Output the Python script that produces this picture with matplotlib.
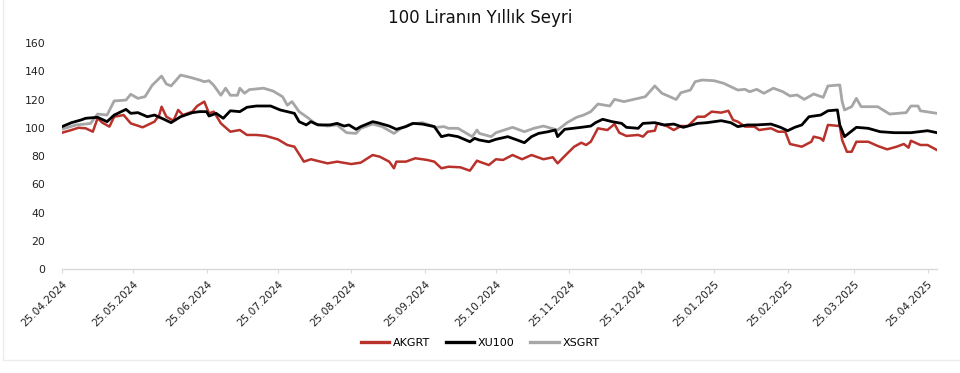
import matplotlib
matplotlib.use("Agg")
import matplotlib.pyplot as plt
from matplotlib.lines import Line2D
import pandas as pd

start = pd.Timestamp("2024-04-25")

# days since 25.04.2024 and index values (base 100)
akgrt_days = [0, 4, 7, 10, 13, 15, 17, 20, 22, 26, 29, 34, 39, 41, 42, 44, 47, 49, 51, 55, 57, 60, 62, 64, 67, 71, 75, 78, 82, 86, 91, 95, 98, 102, 105, 109, 112, 116, 122, 126, 131, 134, 138, 140, 141, 145, 149, 154, 157, 160, 163, 168, 172, 175, 176, 180, 183, 186, 190, 194, 198, 200, 203, 207, 209, 212, 216, 219, 221, 223, 226, 230, 233, 235, 238, 243, 245, 247, 250, 251, 255, 258, 261, 264, 268, 271, 274, 278, 281, 283, 285, 288, 292, 294, 299, 302, 305, 307, 312, 316, 317, 320, 321, 323, 328, 329, 331, 333, 335, 340, 344, 348, 352, 355, 357, 358, 362, 365, 369]
akgrt = [96.5, 98.4, 100, 99.6, 97.2, 106.7, 103.6, 100.8, 107.8, 109, 103.1, 100.3, 104.3, 109, 114.9, 107.8, 105, 112.6, 109, 111.4, 115.4, 118.5, 110.2, 111.4, 103.1, 97.2, 98.4, 94.9, 94.9, 94.2, 91.8, 87.8, 86.6, 76, 77.7, 76, 74.8, 76, 74.3, 75.3, 80.7, 79.5, 76, 71.3, 76, 76, 78.4, 77.2, 76, 71.3, 72.4, 72, 69.6, 76.7, 76, 73.6, 77.7, 77.2, 80.7, 77.7, 80.7, 79.5, 77.7, 79.1, 74.8, 80, 86.6, 89.4, 87.8, 90.1, 99.6, 98.4, 102.6, 96.5, 94.2, 94.9, 93.7, 97.2, 97.9, 103.1, 101.2, 98.4, 101.2, 101.2, 107.8, 107.8, 111.4, 110.7, 112, 105.5, 104.3, 100.8, 100.8, 98.4, 99.6, 97.2, 97.2, 88.5, 86.6, 90.1, 93.7, 92.5, 90.8, 102, 101.2, 91.3, 83, 83, 90.1, 90.1, 87.1, 84.7, 86.6, 88.5, 85.9, 90.8, 87.8, 87.8, 84.2]

xu100_days = [0, 4, 8, 10, 15, 19, 22, 27, 29, 32, 36, 39, 43, 46, 50, 55, 58, 61, 62, 65, 68, 71, 75, 78, 82, 88, 92, 98, 100, 103, 105, 108, 113, 116, 119, 121, 124, 126, 131, 133, 138, 141, 145, 148, 152, 157, 160, 163, 167, 172, 174, 176, 180, 183, 188, 192, 195, 198, 201, 205, 208, 209, 212, 219, 223, 225, 228, 232, 236, 238, 243, 245, 250, 254, 258, 262, 268, 272, 278, 282, 285, 289, 293, 299, 303, 306, 309, 312, 315, 320, 323, 327, 328, 330, 335, 340, 345, 351, 358, 365, 369]
xu100 = [100.8, 103.6, 105.5, 106.7, 107.4, 104.3, 109, 113, 110.2, 110.7, 107.8, 109, 106, 103.6, 107.8, 110.7, 111.4, 111.4, 108.3, 110.2, 106.7, 112, 111.4, 114.5, 115.4, 115.4, 112.6, 110.2, 104.3, 102, 104.3, 102, 102, 103.1, 101.2, 102, 98.9, 100.8, 104.3, 103.6, 101.2, 98.9, 100.8, 103.1, 102.6, 100.8, 93.7, 94.9, 93.7, 90.1, 92.5, 91.3, 90.1, 91.8, 93.7, 91.3, 89.4, 93.7, 96, 97.2, 98.4, 93.7, 98.9, 100.3, 101.2, 103.6, 106, 104.3, 103.1, 100.3, 99.6, 103.1, 103.6, 102, 102.6, 100.3, 103.1, 103.6, 105, 103.6, 100.8, 102, 102, 102.6, 100.3, 97.9, 100.3, 102, 107.8, 109, 112, 112.6, 102, 93.7, 100.3, 99.6, 97.2, 96.5, 96.5, 97.9, 96.5]

xsgrt_days = [0, 6, 12, 15, 19, 22, 27, 29, 32, 35, 38, 42, 44, 46, 50, 54, 58, 60, 62, 64, 67, 69, 71, 74, 75, 77, 79, 85, 89, 93, 95, 97, 100, 104, 107, 112, 116, 120, 124, 126, 131, 135, 140, 143, 147, 152, 158, 161, 163, 167, 173, 175, 176, 181, 183, 190, 195, 199, 203, 209, 213, 217, 220, 223, 226, 231, 233, 237, 243, 246, 250, 253, 257, 259, 261, 265, 267, 270, 275, 279, 285, 288, 290, 293, 296, 300, 304, 307, 310, 313, 317, 321, 323, 328, 329, 330, 333, 335, 337, 344, 349, 356, 358, 361, 362, 369]
xsgrt = [99, 102, 103, 109.7, 109, 119, 119.6, 123.7, 120.8, 122, 130, 136.6, 131, 129.6, 137.3, 135.7, 133.8, 132.6, 133.3, 130, 123, 128, 123, 123, 128, 124.4, 127, 128, 126, 122, 116, 118.5, 111.4, 106.7, 102.6, 101.2, 102, 96.5, 96, 99.6, 102.6, 100.8, 96, 99.6, 102.6, 103.6, 100.3, 100.8, 99.6, 99.6, 93.7, 98.4, 96, 93.7, 96.5, 100.3, 97.2, 99.6, 101.2, 98.4, 103.6, 107.4, 109, 111.4, 116.8, 115.4, 120.1, 118.5, 120.8, 122, 129.6, 124.4, 121.5, 120, 124.8, 126.7, 132.6, 133.8, 133.3, 131.5, 126.7, 127.2, 125.5, 127.2, 124.4, 128, 125.5, 122.5, 123.2, 120.1, 123.9, 121.5, 129.6, 130.3, 118.5, 112.6, 114.9, 120.8, 114.9, 114.9, 109.7, 110.7, 115.4, 115.4, 112, 110.2]

tick_labels = ["25.04.2024", "25.05.2024", "25.06.2024", "25.07.2024", "25.08.2024",
               "25.09.2024", "25.10.2024", "25.11.2024", "25.12.2024", "25.01.2025",
               "25.02.2025", "25.03.2025", "25.04.2025"]
y_ticks = [0, 20, 40, 60, 80, 100, 120, 140, 160]

series_names = ["AKGRT", "XU100", "XSGRT"]
colors = ["#B8312A", "#000000", "#A6A6A6"]

def to_dates(days):
    return start + pd.to_timedelta(days, unit="D")

plt.rcParams["font.family"] = ["DejaVu Sans"]

fig = plt.figure(figsize=(9.6, 3.73), dpi=100)
ax = fig.add_axes([62 / 960, 1 - 269 / 373, (937 - 62) / 960, (269 - 43) / 373])

ax.plot(to_dates(xsgrt_days), xsgrt, color=colors[2], lw=2.0, solid_joinstyle="round", zorder=2)
ax.plot(to_dates(akgrt_days), akgrt, color=colors[0], lw=1.8, solid_joinstyle="round", zorder=3)
ax.plot(to_dates(xu100_days), xu100, color=colors[1], lw=2.0, solid_joinstyle="round", zorder=4)

ax.set_ylim(0, 160)
ax.set_yticks(y_ticks)
ax.set_xlim(to_dates([0])[0], to_dates([369])[0])
tick_dates = pd.to_datetime(tick_labels, format="%d.%m.%Y")
ax.set_xticks(tick_dates)
ax.set_xticklabels(tick_labels, rotation=45, ha="right", va="top", rotation_mode="anchor",
                   fontsize=7.6, color="#222222")
ax.tick_params(axis="x", length=3, color="#d9d9d9", pad=4)
ax.tick_params(axis="y", length=0, labelsize=7.8, pad=12, labelcolor="#222222")
for s in ["top", "right", "left"]:
    ax.spines[s].set_visible(False)
ax.spines["bottom"].set_color("#d9d9d9")
ax.spines["bottom"].set_linewidth(1.0)

fig.text(0.5, 1 - 18 / 373, "100 Liranın Yıllık Seyri", ha="center", va="center",
         fontsize=12, color="#111111")

handles = [Line2D([0], [0], color=c, lw=2.4) for c in colors]
fig.legend(handles, series_names, loc="center", bbox_to_anchor=(0.5, 1 - 343 / 373),
           ncol=3, frameon=False, fontsize=8, handlelength=2.6, handletextpad=0.3,
           columnspacing=1.4)

# light frame
fig.add_artist(Line2D([3 / 960, 3 / 960], [13 / 373, 1], color="#ececec", lw=1, transform=fig.transFigure))
fig.add_artist(Line2D([3 / 960, 1], [13 / 373, 13 / 373], color="#ececec", lw=1, transform=fig.transFigure))

fig.savefig("out.png", dpi=100)
